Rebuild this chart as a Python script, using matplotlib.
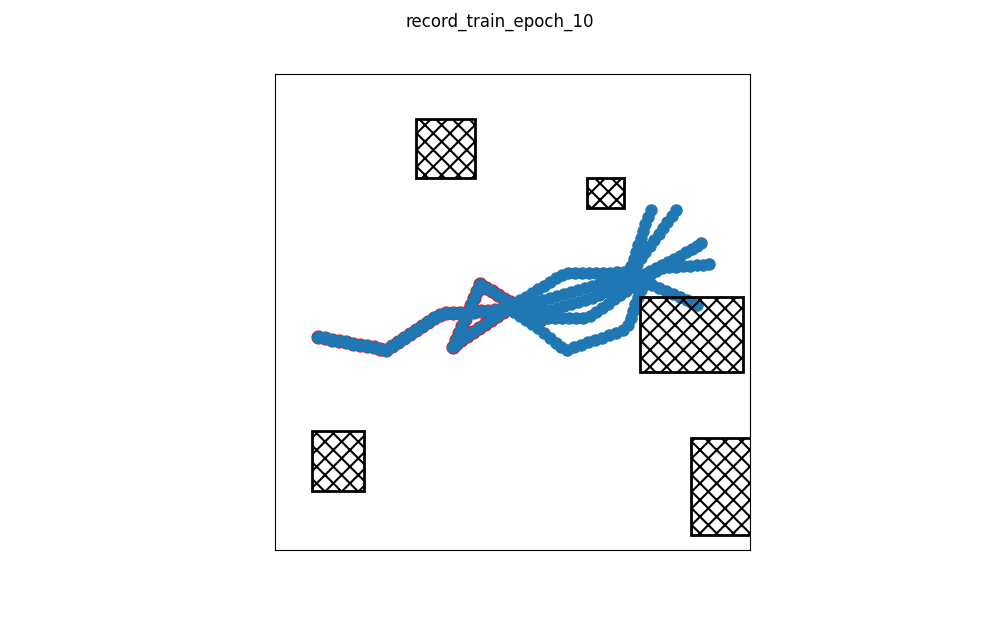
#!/usr/bin/env python3
"""Replay of agent trajectories for one training epoch, with obstacles."""

import matplotlib

matplotlib.use("Agg")
import matplotlib.pyplot as plt
from matplotlib.patches import Rectangle


TITLE = "record_train_epoch_10"
WORLD_W = 475
WORLD_H = 476

# obstacles: lower-left corner, width, height
OBST_X = [141, 312, 365, 37, 416]
OBST_Y = [372, 342, 178, 59, 15]
OBST_W = [59, 37, 103, 52, 66]
OBST_H = [59, 30, 75, 60, 97]

# common start of every episode
START_X = [43, 50, 57, 64, 71, 78, 85, 92, 99, 105, 111, 117, 123, 129, 135, 141, 147, 153,
           159, 165, 171, 178, 185, 192, 199, 206, 213, 220, 227, 233]
START_Y = [213, 212, 210, 209, 208, 206, 205, 204, 203, 201, 200, 204, 208, 212, 216, 220, 224, 228,
           232, 235, 237, 237, 237, 238, 238, 239, 239, 240, 241, 242]

# highlighted episode (drawn with red outline)
RED_X = [228, 222, 216, 210, 204, 198, 192, 186, 181, 178, 181, 184, 187, 190, 193, 196, 199, 202,
         205, 211, 217, 223, 229, 235, 241, 247, 253, 259, 265]
RED_Y = [238, 234, 230, 226, 222, 218, 214, 210, 206, 203, 210, 217, 224, 231, 238, 245, 252, 259,
         266, 262, 259, 255, 251, 248, 244, 240, 237, 233, 230]

B1_X = [239, 245, 251, 257, 263, 269, 275, 281, 287, 293, 300, 307, 314, 321, 328, 335, 342, 349,
        356, 359, 361, 363, 366, 368, 370, 373, 376]
B1_Y = [246, 250, 253, 257, 261, 264, 268, 272, 275, 277, 277, 277, 277, 277, 277, 277, 278, 278,
        284, 291, 298, 305, 312, 319, 326, 333, 340]

B2_X = [240, 247, 254, 261, 268, 275, 282, 289, 296, 303, 310, 317, 324, 331, 338, 345, 352, 358,
        362, 366, 370, 375, 379, 384, 388, 392, 397, 401]
B2_Y = [244, 245, 247, 249, 250, 252, 254, 256, 258, 260, 262, 264, 266, 268, 270, 272, 275, 280,
        286, 292, 298, 304, 310, 316, 322, 328, 334, 340]

B3_X = [240, 247, 254, 261, 268, 275, 282, 289, 296, 303, 310, 317, 324, 331, 338, 345, 351, 357,
        363, 369, 375, 381, 387, 393, 399, 405, 411, 417, 422, 426]
B3_Y = [240, 239, 238, 238, 239, 240, 242, 244, 246, 248, 250, 252, 255, 258, 261, 264, 267, 270,
        273, 276, 279, 282, 285, 288, 291, 294, 298, 301, 304, 307]

B4_X = [239, 245, 252, 259, 266, 273, 280, 287, 294, 301, 308, 315, 321, 327, 333, 339, 345, 351,
        357, 363, 369, 375, 381, 387, 394, 401, 408, 415, 422, 428, 434]
B4_Y = [239, 236, 234, 233, 232, 232, 232, 232, 232, 232, 232, 234, 238, 242, 246, 251, 255, 259,
        263, 267, 271, 275, 279, 282, 283, 283, 284, 284, 285, 285, 286]

B5_X = [239, 245, 251, 257, 263, 269, 275, 281, 286, 292, 299, 306, 313, 320, 327, 334, 341, 348,
        353, 356, 358, 360, 363, 366, 370, 377, 384, 391, 398, 405, 412, 417, 422]
B5_Y = [238, 234, 230, 226, 222, 217, 212, 207, 203, 200, 203, 205, 208, 210, 212, 215, 217, 220,
        225, 232, 239, 246, 253, 260, 266, 265, 262, 259, 256, 253, 250, 247, 245]

EPISODES = [(B1_X, B1_Y), (B2_X, B2_Y), (B3_X, B3_Y), (B4_X, B4_Y), (B5_X, B5_Y)]


def main() -> None:
    plt.rcParams["hatch.linewidth"] = 1.5
    fig, ax = plt.subplots(figsize=(10, 6.18), dpi=100)
    fig.suptitle(TITLE)

    # highlighted run: red halo underneath, blue on top
    hx = START_X + RED_X
    hy = START_Y + RED_Y
    ax.plot(hx, hy, "o", color="red", markersize=9, markeredgewidth=1.2, zorder=2)
    ax.plot(hx, hy, "-o", color="C0", markersize=8, zorder=2)

    for xs, ys in EPISODES:
        ax.plot(START_X + xs, START_Y + ys, "-o", color="C0", markersize=8, zorder=2)

    for x, y, w, h in zip(OBST_X, OBST_Y, OBST_W, OBST_H):
        ax.add_patch(Rectangle((x, y), w, h, fill=False, hatch="xx",
                               edgecolor="black", linewidth=2, zorder=3))

    ax.set_xlim(0, WORLD_W)
    ax.set_ylim(0, WORLD_H)
    ax.set_aspect("equal")
    ax.set_xticks([])
    ax.set_yticks([])
    fig.savefig("out.png", dpi=100)
    plt.close(fig)


if __name__ == "__main__":
    main()
